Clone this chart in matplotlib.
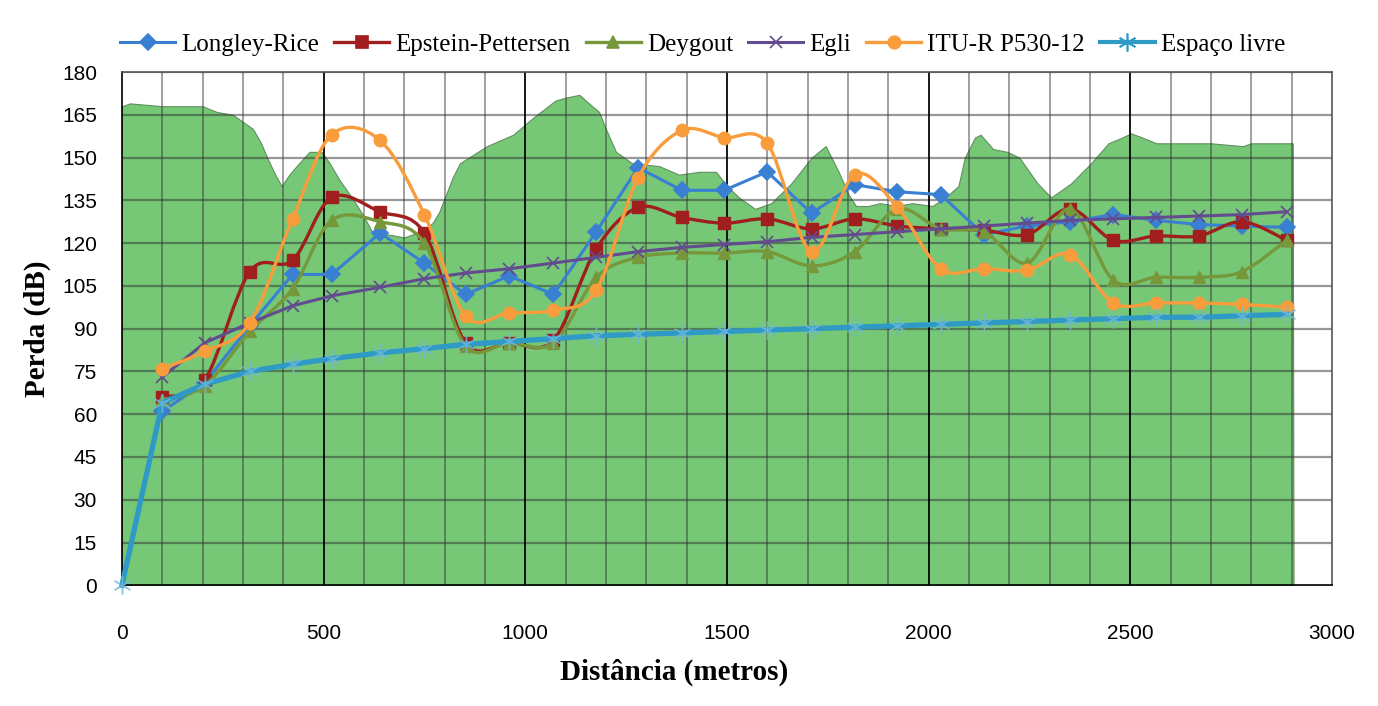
import matplotlib
matplotlib.use("Agg")
import matplotlib.pyplot as plt
import numpy as np
from matplotlib.path import Path
from matplotlib.patches import PathPatch
from matplotlib.lines import Line2D

# distances (m) of the model points
dist = [100, 205, 317, 423, 520, 640, 750, 852, 960, 1070, 1176, 1280, 1388, 1493,
        1600, 1710, 1817, 1923, 2030, 2137, 2245, 2351, 2458, 2564, 2670, 2777, 2888]

longley_rice = [61, 71, 91, 109, 109, 123.5, 113, 102, 108.5, 102, 124, 146.5, 138.5, 138.5,
                145, 130.5, 140.5, 138, 137, 123, 126, 127.5, 130, 128, 126.5, 126, 125.5]
epstein = [66, 72, 110, 114, 136, 131, 123.5, 85, 85, 86, 118, 132.5, 129, 127,
           128.5, 125, 128.5, 126, 125, 124.5, 123, 132, 121, 122.5, 122.5, 127.5, 121]
deygout = [65, 70, 89, 104, 128, 127.5, 120, 84, 85, 85, 108, 115, 116.5, 116.5,
           117, 112, 117, 132, 125, 124, 113, 132, 107, 108, 108, 110, 121]
egli = [73, 85, 92, 98, 101.5, 104.5, 107.5, 109.5, 111, 113, 115, 117, 118.5, 119.5,
        120.5, 122, 123, 124, 125, 126, 127, 128, 128.5, 129, 129.5, 130, 131]
itu = [76, 82, 92, 128.5, 158, 156, 130, 94.5, 95.5, 96.5, 103.5, 143, 159.5, 157,
       155, 117, 144, 132.5, 111, 111, 110.5, 116, 99, 99, 99, 98.5, 97.5]

# free space starts at the origin
dist_fs = [0] + dist
espaco_livre = [0, 64, 70.5, 75, 77.5, 79.5, 81.5, 83, 84.5, 85.5, 86.5, 87.5, 88, 88.5,
                89, 89.5, 90, 90.5, 91, 91.5, 92, 92.5, 93, 93.5, 94, 94, 94.5, 95]

# terrain profile drawn behind the curves
terrain_x = [0, 20, 100, 200, 235, 275, 295, 325, 345, 360, 380, 396, 415, 433, 465, 495,
             515, 540, 570, 597, 620, 660, 700, 740, 770, 787, 820, 838, 905, 970, 1020,
             1075, 1100, 1134, 1158, 1183, 1200, 1225, 1265, 1332, 1381, 1431, 1473, 1500,
             1530, 1570, 1610, 1660, 1710, 1745, 1777, 1802, 1820, 1850, 1880, 1920, 1960,
             2010, 2050, 2074, 2090, 2115, 2129, 2160, 2195, 2225, 2270, 2304, 2354, 2403,
             2446, 2480, 2502, 2530, 2565, 2700, 2780, 2800, 2903, 2905]
terrain_y = [168, 169, 168, 168, 166, 165, 163, 160, 155, 150, 144, 140, 144, 147, 152, 152,
             148, 142, 136, 130, 124, 123, 122, 124, 127, 131, 143, 148, 154, 158, 164,
             170, 171, 172, 169, 166, 160, 152, 148, 147, 144, 145, 145, 140,
             136, 132, 134, 141, 150, 154, 145, 137, 133, 133, 134, 133, 134,
             133, 137, 140, 150, 157, 158, 153, 152, 150, 141, 136, 141, 148,
             155, 157, 158.5, 157, 155, 155, 154, 155, 155, 0]


def smooth_path(xs, ys):
    # Bezier path through the points (Catmull-Rom tangents), like Excel smoothed lines
    pts = np.column_stack([xs, ys]).astype(float)
    verts = [pts[0]]
    codes = [Path.MOVETO]
    n = len(pts)
    for i in range(n - 1):
        p0 = pts[i - 1] if i > 0 else pts[i]
        p1 = pts[i]
        p2 = pts[i + 1]
        p3 = pts[i + 2] if i + 2 < n else pts[i + 1]
        c1 = p1 + (p2 - p0) / 6.0
        c2 = p2 - (p3 - p1) / 6.0
        verts += [c1, c2, p2]
        codes += [Path.CURVE4] * 3
    return Path(verts, codes)


fig = plt.figure(figsize=(13.78, 7.06), dpi=100)
ax = fig.add_axes([0.0885, 0.171, 0.878, 0.727])

ax.fill_between(terrain_x, terrain_y, 0, color='#76c776', edgecolor='#5f8f5f',
                linewidth=0.8, zorder=1)

# grid on top of the terrain
for yv in range(15, 181, 15):
    ax.axhline(yv, color='#333333', alpha=0.5, lw=1.6, zorder=2)
for xv in range(100, 3000, 100):
    if xv % 500 == 0:
        ax.axvline(xv, color='black', alpha=0.9, lw=1.4, zorder=2)
    else:
        ax.axvline(xv, color='#333333', alpha=0.5, lw=1.3, zorder=2)

asterisk = (6, 2, 0)
series = [
    ('Longley-Rice', dist, longley_rice, '#3a80d2', 'D', 8, False, 2.2),
    ('Epstein-Pettersen', dist, epstein, '#a01e1e', 's', 9, True, 2.4),
    ('Deygout', dist, deygout, '#76983a', '^', 8, True, 2.4),
    ('Egli', dist, egli, '#634b8f', 'x', 8, False, 2.2),
    ('ITU-R P530-12', dist, itu, '#f99c3c', 'o', 9, True, 2.4),
    ('Espaço livre', dist_fs, espaco_livre, '#2f9ac6', asterisk, 13, False, 3.8),
]

handles = []
for k, (name, xs, ys, color, mk, ms, smooth, lw) in enumerate(series):
    z = 3 + k
    if smooth:
        ax.add_patch(PathPatch(smooth_path(xs, ys), facecolor='none', edgecolor=color,
                               lw=lw, zorder=z, capstyle='round', joinstyle='round'))
        ax.plot(xs, ys, ls='none', marker=mk, ms=ms, color=color, zorder=z, clip_on=False)
    elif mk is asterisk:
        ax.plot(xs, ys, color=color, lw=lw, zorder=z, clip_on=False)
        ax.plot(xs, ys, ls='none', marker=mk, ms=ms, mew=1.0, color='#6fb8dc',
                alpha=0.8, zorder=z, clip_on=False)
    else:
        ax.plot(xs, ys, color=color, lw=lw, marker=mk, ms=ms, mew=1.2, zorder=z,
                clip_on=False)
    handles.append(Line2D([], [], color=color, lw=min(lw, 3), marker=mk,
                          ms=ms, mew=1.2, label=name))

ax.set_xlim(0, 3000)
ax.set_ylim(0, 180)
ax.set_xticks(range(0, 3001, 500))
ax.set_yticks(range(0, 181, 15))
ax.tick_params(length=0, labelsize=15)
ax.tick_params(axis='y', pad=18)
ax.tick_params(axis='x', pad=28)
for lab in ax.get_xticklabels() + ax.get_yticklabels():
    lab.set_family('Liberation Sans')
for sp in ax.spines.values():
    sp.set_color('#555555')
    sp.set_linewidth(1.2)
ax.spines['left'].set_color('black')
ax.spines['bottom'].set_color('black')

ax.set_xlabel('Distância (metros)', fontsize=21, fontweight='bold',
              family='Liberation Serif')
ax.xaxis.set_label_coords(0.456, -0.143)
ax.set_ylabel('Perda (dB)', fontsize=21, fontweight='bold',
              family='Liberation Serif', labelpad=8)

fig.legend(handles=handles, loc='upper center', bbox_to_anchor=(0.51, 0.985), ncol=6,
           frameon=False, prop={'family': 'Liberation Serif', 'size': 18},
           handlelength=2.2, handletextpad=0.25, columnspacing=0.6)

fig.savefig('out.png', dpi=100)
